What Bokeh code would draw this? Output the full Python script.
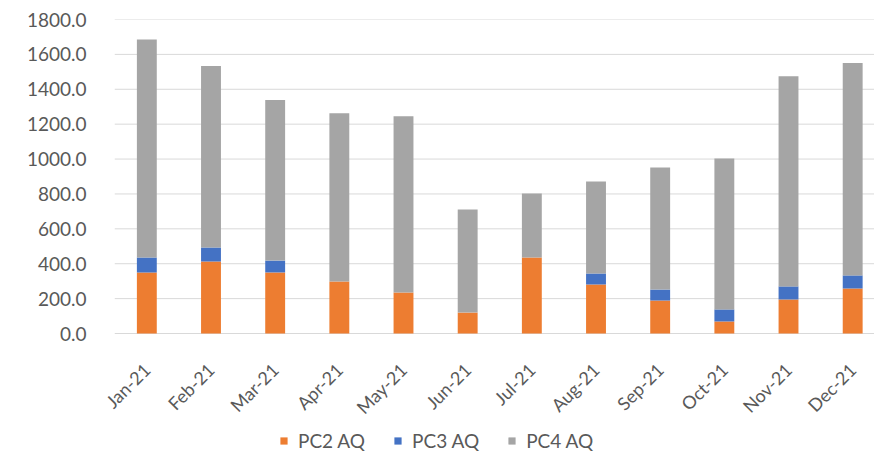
import math
from bokeh.plotting import figure
from bokeh.models import (ColumnDataSource, Range1d, FixedTicker,
                          NumeralTickFormatter, Legend, LegendItem)
from bokeh.core.properties import value
from bokeh.embed import file_html
from bokeh.resources import INLINE

# ---- data ----
months = ["Jan-21", "Feb-21", "Mar-21", "Apr-21", "May-21", "Jun-21",
          "Jul-21", "Aug-21", "Sep-21", "Oct-21", "Nov-21", "Dec-21"]
pc2 = [350, 413, 350, 298, 235, 120, 435, 281, 189, 69, 195, 258]
pc3 = [86, 80, 68, 0, 0, 0, 0, 63, 63, 69, 75, 75]
pc4 = [1250, 1040, 920, 965, 1011, 591, 368, 528, 700, 865, 1205, 1217]
series = ["PC2 AQ", "PC3 AQ", "PC4 AQ"]
colors = ["#ED7D31", "#4472C4", "#A5A5A5"]
y_ticks = [0, 200, 400, 600, 800, 1000, 1200, 1400, 1600, 1800]

FONT = "Lato"
TXT = "#595959"

idx = list(range(len(months)))
source = ColumnDataSource(dict(x=idx, month=months, zero=[0] * len(months),
                               pc2=pc2, pc3=pc3, pc4=pc4))

# plot frame covers the month labels and legend below the zero line
# (1800 units over 314 px above zero, 127 px kept below zero)
y_min = -1800 * 127 / 314
p = figure(width=874, height=460, x_axis_location=None,
           x_range=Range1d(-0.8, 11.34), y_range=Range1d(y_min, 1800),
           output_backend="svg", toolbar_location=None,
           min_border_left=95, min_border_right=0, min_border_top=19,
           min_border_bottom=0)
p.outline_line_color = None
p.background_fill_color = "white"
p.xgrid.grid_line_color = None
p.ygrid.grid_line_color = None

# horizontal gridlines spanning the category area (first band edge onward)
grid_src = ColumnDataSource(dict(y=y_ticks,
                                 x0=[idx[0] - 0.5] * len(y_ticks),
                                 x1=[idx[-1] + 0.5] * len(y_ticks)))
p.segment(x0="x0", x1="x1", y0="y", y1="y", source=grid_src,
          line_color="#D9D9D9", line_width=1, level="underlay")

renderers = p.vbar_stack(["pc2", "pc3", "pc4"], x="x", width=0.31, color=colors,
                         source=source, line_color=None)

# month labels (category axis)
p.text(x="x", y="zero", text="month", source=source, angle=math.pi / 4,
       text_align="right", text_baseline="middle", y_offset=33,
       text_font=value(FONT), text_font_size="18px", text_color=TXT)

# value axis
p.yaxis.ticker = FixedTicker(ticks=y_ticks)
p.yaxis.formatter = NumeralTickFormatter(format="0.0")
p.yaxis.major_tick_line_color = None
p.yaxis.minor_tick_line_color = None
p.yaxis.axis_line_color = None
p.yaxis.major_label_text_font = FONT
p.yaxis.major_label_text_font_size = "19px"
p.yaxis.major_label_text_color = TXT
p.yaxis.major_label_standoff = 3

legend = Legend(items=[LegendItem(label=s, renderers=[r]) for s, r in zip(series, renderers)],
                orientation="horizontal", location=(184, 8),
                glyph_width=9, glyph_height=9, label_standoff=10, spacing=28,
                margin=0, padding=0, border_line_color=None, background_fill_alpha=0,
                label_text_font=FONT, label_text_font_size="19px", label_text_color=TXT)
p.add_layout(legend, "center")

open("out.html", "w").write(file_html(p, INLINE))
